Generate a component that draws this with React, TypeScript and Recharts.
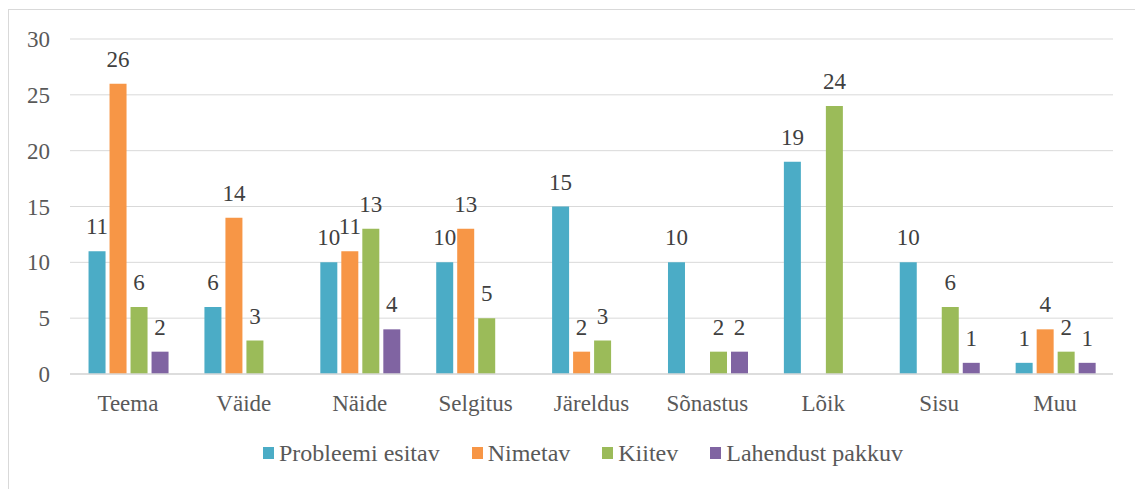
import React from "react";
import {
  BarChart,
  Bar,
  XAxis,
  YAxis,
  CartesianGrid,
  Legend,
  LabelList,
} from "recharts";

const categories = ["Teema", "Väide", "Näide", "Selgitus", "Järeldus", "Sõnastus", "Lõik", "Sisu", "Muu"];
const probleemiEsitav = [11, 6, 10, 10, 15, 10, 19, 10, 1];
const nimetav = [26, 14, 11, 13, 2, null, null, null, 4];
const kiitev = [6, 3, 13, 5, 3, 2, 24, 6, 2];
const lahendustPakkuv = [2, null, 4, null, null, 2, null, 1, 1];
const yTicks = [0, 5, 10, 15, 20, 25, 30];

const series = [
  { key: "probleemi", name: "Probleemi esitav", color: "#4BACC6", values: probleemiEsitav },
  { key: "nimetav", name: "Nimetav", color: "#F79646", values: nimetav },
  { key: "kiitev", name: "Kiitev", color: "#9BBB59", values: kiitev },
  { key: "lahendust", name: "Lahendust pakkuv", color: "#8064A2", values: lahendustPakkuv },
];

const data = categories.map((name, i) => {
  const row: any = { name };
  series.forEach((s) => {
    row[s.key] = s.values[i];
  });
  return row;
});

const FONT = '"Liberation Serif", "Times New Roman", serif';
const tickStyle = { fill: "#595959", fontSize: 23, style: { fontFamily: FONT } };

const renderLabel = (props: any) => {
  const { x, y, width, value } = props;
  if (value === null || value === undefined) return null;
  return (
    <text
      x={Number(x) + Number(width) / 2}
      y={Number(y) - 17}
      textAnchor="middle"
      fill="#404040"
      fontSize={23}
      style={{ fontFamily: FONT }}
    >
      {value}
    </text>
  );
};

const renderLegend = () => (
  <div style={{ display: "flex", alignItems: "center", height: 30 }}>
    {series.map((s) => (
      <div key={s.key} style={{ display: "flex", alignItems: "center", marginRight: 32 }}>
        <span style={{ width: 11, height: 12, background: s.color, marginRight: 5, display: "inline-block" }} />
        <span
          style={{
            fontFamily: FONT,
            fontSize: 24,
            lineHeight: "30px",
            color: "#595959",
            whiteSpace: "nowrap",
          }}
        >
          {s.name}
        </span>
      </div>
    ))}
  </div>
);

export default function App() {
  return (
    <div
      style={{
        width: 1132,
        height: 490,
        marginTop: 1,
        border: "1px solid #d9d9d9",
        background: "#fff",
      }}
    >
      <BarChart
        width={1132}
        height={480}
        data={data}
        margin={{ top: 29, right: 28, bottom: 22, left: 0 }}
        barCategoryGap="16%"
        barGap={4}
      >
        <CartesianGrid vertical={false} stroke="#d9d9d9" />
        <XAxis
          dataKey="name"
          height={64}
          axisLine={{ stroke: "#d9d9d9", strokeWidth: 1.5 }}
          tickLine={false}
          tickSize={0}
          tickMargin={21}
          tick={tickStyle}
          interval={0}
        />
        <YAxis
          width={61}
          domain={[0, 30]}
          ticks={yTicks}
          axisLine={false}
          tickLine={false}
          tickSize={0}
          tickMargin={20}
          tick={tickStyle}
        />
        <Legend
          verticalAlign="bottom"
          content={renderLegend}
          wrapperStyle={{ left: 254, width: "auto" }}
        />
        {series.map((s) => (
          <Bar key={s.key} dataKey={s.key} name={s.name} fill={s.color} isAnimationActive={false}>
            <LabelList dataKey={s.key} content={renderLabel} />
          </Bar>
        ))}
      </BarChart>
    </div>
  );
}
